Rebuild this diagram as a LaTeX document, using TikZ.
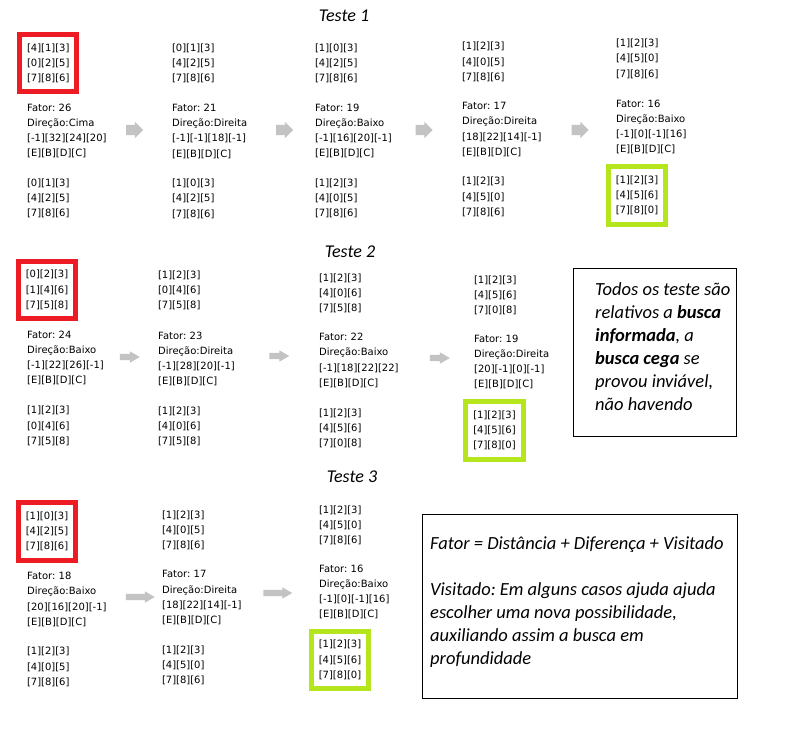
\documentclass[tikz,border=0pt]{standalone}
\usepackage{fontspec}
\usetikzlibrary{shapes.arrows}
\newfontfamily\estfont{DejaVu Sans}
\newfontfamily\notafont{Carlito}
\definecolor{vermelho}{RGB}{237,28,36}
\definecolor{verdelima}{RGB}{181,230,29}
\definecolor{cinzaseta}{RGB}{195,195,195}
\newcommand\tabuleiro[3]{#1\\{}#2\\{}#3}
\newcommand\passo[3]{Fator: #1\\Direção:#2\\{}#3\\{}[E][B][D][C]}
\frenchspacing
\begin{document}
\begin{tikzpicture}[x=1pt,y=-1pt,
        estado/.style={font=\estfont\fontsize{10}{15.2}\selectfont, align=left, inner sep=0pt},
        fator/.style={estado, anchor=west},
        inicio/.style={estado, draw=vermelho, line width=5pt, inner xsep=7.5pt, inner ysep=9pt},
        final/.style={inicio, draw=verdelima},
        titulo/.style={font=\notafont\itshape\fontsize{18}{22}\selectfont},
        nota/.style={font=\notafont\itshape\fontsize{18.5}{23}\selectfont, align=left, inner sep=0pt, anchor=north west},
        caixa/.style={draw, line width=1pt, inner sep=0pt},
        setaA/.style={single arrow, fill=cinzaseta, inner xsep=0pt, inner ysep=5pt, minimum height=17pt, single arrow head extend=3pt},
        setaB/.style={setaA, inner ysep=3pt, single arrow head extend=2.5pt, single arrow tip angle=60}]
        \useasboundingbox (0,0) rectangle (793,737);
        % Teste 1
        \node[titulo] (teste1) at (344,16) {Teste 1};
        \node[inicio] (e11) at (48.25,63.3) {\tabuleiro{[4][1][3]}{[0][2][5]}{[7][8][6]}};
        \node[fator] (f11) at (27,130.8) {\passo{26}{Cima}{[-1][32][24][20]}};
        \node[estado] (s11) at (48.25,198.2) {\tabuleiro{[0][1][3]}{[4][2][5]}{[7][8][6]}};
        \node[estado] (e12) at (193.25,63.5) {\tabuleiro{[0][1][3]}{[4][2][5]}{[7][8][6]}};
        \node[fator] (f12) at (172,131.3) {\passo{21}{Direita}{[-1][-1][18][-1]}};
        \node[estado] (s12) at (193.25,198.7) {\tabuleiro{[1][0][3]}{[4][2][5]}{[7][8][6]}};
        \node[estado] (e13) at (336.25,63.3) {\tabuleiro{[1][0][3]}{[4][2][5]}{[7][8][6]}};
        \node[fator] (f13) at (315,130.8) {\passo{19}{Baixo}{[-1][16][20][-1]}};
        \node[estado] (s13) at (336.25,198.2) {\tabuleiro{[1][2][3]}{[4][0][5]}{[7][8][6]}};
        \node[estado] (e14) at (483.25,62) {\tabuleiro{[1][2][3]}{[4][0][5]}{[7][8][6]}};
        \node[fator] (f14) at (462,129.5) {\passo{17}{Direita}{[18][22][14][-1]}};
        \node[estado] (s14) at (483.25,197) {\tabuleiro{[1][2][3]}{[4][5][0]}{[7][8][6]}};
        \node[estado] (e15) at (637.25,58.8) {\tabuleiro{[1][2][3]}{[4][5][0]}{[7][8][6]}};
        \node[fator] (f15) at (616,126.8) {\passo{16}{Baixo}{[-1][0][-1][16]}};
        \node[final] (s15) at (637,195.5) {\tabuleiro{[1][2][3]}{[4][5][6]}{[7][8][0]}};
        \foreach \nm/\x/\y in {a11/132/130, a12/282/130, a13/421.5/130, a14/577.5/130}
            \node[setaA] (\nm) at (\x,\y) {};
        % Teste 2
        \node[titulo] (teste2) at (350,252) {Teste 2};
        \node[inicio] (e21) at (47,290) {\tabuleiro{[0][2][3]}{[1][4][6]}{[7][5][8]}};
        \node[fator] (f21) at (27,358.1) {\passo{24}{Baixo}{[-1][22][26][-1]}};
        \node[estado] (s21) at (48.25,426) {\tabuleiro{[1][2][3]}{[0][4][6]}{[7][5][8]}};
        \node[estado] (e22) at (179.25,290.2) {\tabuleiro{[1][2][3]}{[0][4][6]}{[7][5][8]}};
        \node[fator] (f22) at (158,358.8) {\passo{23}{Direita}{[-1][28][20][-1]}};
        \node[estado] (s22) at (179.25,426.2) {\tabuleiro{[1][2][3]}{[4][0][6]}{[7][5][8]}};
        \node[estado] (e23) at (340.25,293.5) {\tabuleiro{[1][2][3]}{[4][0][6]}{[7][5][8]}};
        \node[fator] (f23) at (319,360.5) {\passo{22}{Baixo}{[-1][18][22][22]}};
        \node[estado] (s23) at (340.25,428.5) {\tabuleiro{[1][2][3]}{[4][5][6]}{[7][0][8]}};
        \node[estado] (e24) at (495.25,295.2) {\tabuleiro{[1][2][3]}{[4][5][6]}{[7][0][8]}};
        \node[fator] (f24) at (474,362.1) {\passo{19}{Direita}{[20][-1][0][-1]}};
        \node[final] (s24) at (494.5,430.5) {\tabuleiro{[1][2][3]}{[4][5][6]}{[7][8][0]}};
        \foreach \nm/\x/\y in {a21/127/357, a22/276.5/356, a23/437/358}
            \node[setaB, minimum height=20pt] (\nm) at (\x,\y) {};
        \node[caixa, minimum width=163pt, minimum height=168pt] (nota1) at (654.5,352) {};
        \node[nota] (txt1) at (595,282.5) {Todos os teste são\\relativos a \textbf{busca}\\\textbf{informada}, a\\\textbf{busca cega} se\\provou inviável,\\não havendo};
        % Teste 3
        \node[titulo] (teste3) at (352,477) {Teste 3};
        \node[inicio] (e31) at (47,531.5) {\tabuleiro{[1][0][3]}{[4][2][5]}{[7][8][6]}};
        \node[fator] (f31) at (27,599.5) {\passo{18}{Baixo}{[20][16][20][-1]}};
        \node[estado] (s31) at (48.25,666.9) {\tabuleiro{[1][2][3]}{[4][0][5]}{[7][8][6]}};
        \node[estado] (e32) at (183.25,530.2) {\tabuleiro{[1][2][3]}{[4][0][5]}{[7][8][6]}};
        \node[fator] (f32) at (162,597.8) {\passo{17}{Direita}{[18][22][14][-1]}};
        \node[estado] (s32) at (183.25,665.2) {\tabuleiro{[1][2][3]}{[4][5][0]}{[7][8][6]}};
        \node[estado] (e33) at (340.25,525.2) {\tabuleiro{[1][2][3]}{[4][5][0]}{[7][8][6]}};
        \node[fator] (f33) at (319,592.1) {\passo{16}{Baixo}{[-1][0][-1][16]}};
        \node[final] (s33) at (340,660) {\tabuleiro{[1][2][3]}{[4][5][6]}{[7][8][0]}};
        \foreach \nm/\x/\y in {a31/137.5/597, a32/275/593}
            \node[setaB, minimum height=29pt] (\nm) at (\x,\y) {};
        \node[caixa, minimum width=315pt, minimum height=184pt] (nota2) at (579.5,606) {};
        \node[nota] (txt2) at (430,536.5) {Fator = Distância + Diferença + Visitado\\[23pt]Visitado: Em alguns casos ajuda ajuda\\escolher uma nova possibilidade,\\auxiliando assim a busca em\\profundidade};
    \end{tikzpicture}
\end{document}
